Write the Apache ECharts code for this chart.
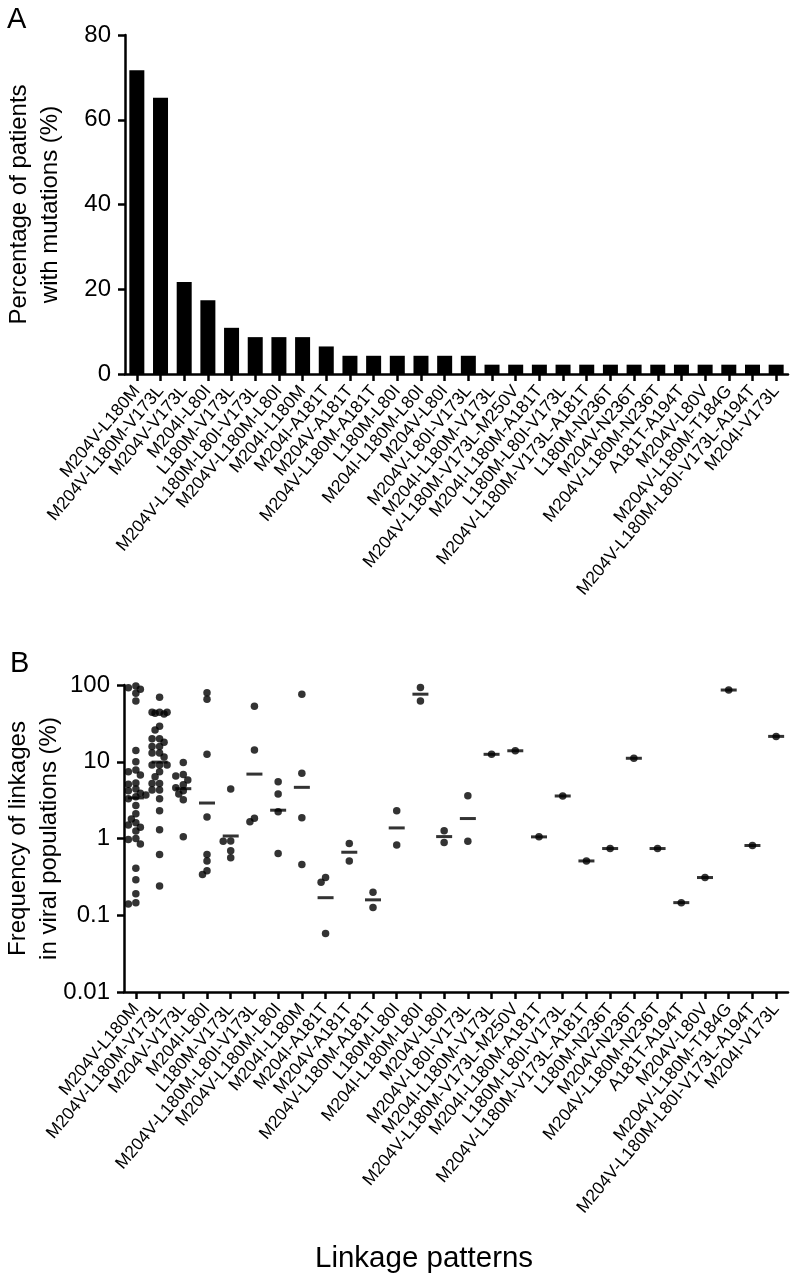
<!DOCTYPE html>
<html><head><meta charset="utf-8">
<script src="https://cdn.jsdelivr.net/npm/echarts@6/dist/echarts.min.js"></script>
<style>html,body{margin:0;padding:0;background:#fff}#c{width:797px;height:1283px}</style>
</head><body><div id="c"></div>
<script>
// ---------- data ----------
const categories = [
  'M204V-L180M','M204V-L180M-V173L','M204V-V173L','M204I-L80I','L180M-V173L',
  'M204V-L180M-L80I-V173L','M204V-L180M-L80I','M204I-L180M','M204I-A181T','M204V-A181T',
  'M204V-L180M-A181T','L180M-L80I','M204I-L180M-L80I','M204V-L80I','M204V-L80I-V173L',
  'M204I-L180M-V173L','M204V-L180M-V173L-M250V','M204I-L180M-A181T','L180M-L80I-V173L',
  'M204V-L180M-V173L-A181T','L180M-N236T','M204V-N236T','M204V-L180M-N236T','A181T-A194T',
  'M204V-L80V','M204V-L180M-T184G','M204V-L180M-L80I-V173L-A194T','M204I-V173L'
];
const patientPct = [71.7,65.2,21.7,17.4,10.9,8.7,8.7,8.7,6.5,4.3,4.3,4.3,4.3,4.3,4.3,
  2.2,2.2,2.2,2.2,2.2,2.2,2.2,2.2,2.2,2.2,2.2,2.2,2.2];
const yTicksTop = [0,20,40,60,80];
const yTicksBottom = [0.01,0.1,1,10,100];

const freqM204V_L180M = [97,92,88,78,62,14,10,7.8,7.4,6.7,5.3,5.1,4.4,4.2,3.9,3.7,3.5,3.3,
  2.7,2.1,1.8,1.6,1.5,1.4,1.25,1.0,0.97,0.85,0.41,0.29,0.19,0.145,0.14];
const freqM204V_L180M_V173L = [69,44,44,43,42,44,29,26,20,20,18,15.8,15.8,13,13,11.5,9.1,9.1,9.1,
  7.4,6.4,5.2,5.2,4.3,4.3,3.3,2.3,1.3,0.62,0.24];
const freqM204V_V173L = [9.8,6.8,6.5,5.8,5.0,4.6,4.2,3.8,3.2,1.05];
const freqM204I_L80I = [79,65,12.5,1.9,0.62,0.51,0.38,0.34];
const freqL180M_V173L = [4.4,0.93,0.92,0.69,0.56];
const freqM204V_L180M_L80I_V173L = [53,14.2,1.83,1.65];
const freqM204V_L180M_L80I = [5.5,3.8,2.23,0.64];
const freqM204I_L180M = [76,7.1,1.87,0.46];
const freqM204I_A181T = [0.31,0.27,0.058];
const freqM204V_A181T = [0.86,0.51];
const freqM204V_L180M_A181T = [0.20,0.126];
const freqL180M_L80I = [2.3,0.82];
const freqM204I_L180M_L80I = [93,62];
const freqM204V_L80I = [1.26,0.89];
const freqM204V_L80I_V173L = [3.6,0.92];
const freqSingles = [12.5,13.9,1.05,3.58,0.51,0.74,11.1,0.74,0.146,0.31,86,0.81,21.4];

const freqGroups = [freqM204V_L180M,freqM204V_L180M_V173L,freqM204V_V173L,freqM204I_L80I,
  freqL180M_V173L,freqM204V_L180M_L80I_V173L,freqM204V_L180M_L80I,freqM204I_L180M,
  freqM204I_A181T,freqM204V_A181T,freqM204V_L180M_A181T,freqL180M_L80I,freqM204I_L180M_L80I,
  freqM204V_L80I,freqM204V_L80I_V173L].concat(freqSingles.map(v => [v]));

// ---------- layout helpers (beeswarm jitter, geometric mean line) ----------
const PX_PER_DECADE = 76.75, MIN_DIST = 5.5;
const CANDS = [0,-4.5,4.5,-7.5,7.5,-10,10];
function swarmOffsets(vals){
  const order = vals.map((v,i)=>i).sort((a,b)=>vals[b]-vals[a]);
  const placed = [], offs = new Array(vals.length).fill(0);
  for (const i of order){
    const y = -Math.log10(vals[i])*PX_PER_DECADE;
    let best = 0, bestScore = -1;
    for (const dx of CANDS){
      let md = Infinity;
      for (const p of placed){ md = Math.min(md, Math.hypot(dx-p.x, y-p.y)); }
      if (md >= MIN_DIST){ best = dx; bestScore = Infinity; break; }
      if (md > bestScore){ bestScore = md; best = dx; }
    }
    placed.push({x:best,y}); offs[i] = best;
  }
  return offs;
}
const dots = [], means = [];
freqGroups.forEach((vals, c) => {
  const offs = swarmOffsets(vals);
  vals.forEach((v,k) => dots.push({value:[categories[c], v], symbolOffset:[offs[k],0]}));
  const gm = Math.pow(10, vals.reduce((s,v)=>s+Math.log10(v),0)/vals.length);
  means.push([categories[c], gm]);
});

const FONT = 'Liberation Sans, Arial, Helvetica, sans-serif';
const axisLine = {show:true, lineStyle:{color:'#000', width:2.5}};
const axisTick = {show:true, inside:false, length:7, alignWithLabel:true, lineStyle:{color:'#000', width:2.5}};
const xLabel = {interval:0, rotate:50, fontSize:17.5, color:'#000', fontFamily:FONT, margin:14};
const yLabel = {fontSize:24, color:'#000', fontFamily:FONT, margin:14};
const yName = {fontSize:24, lineHeight:31, color:'#000', fontFamily:FONT};

const chart = echarts.init(document.getElementById('c'), null, {renderer:'canvas'});
chart.setOption({
  backgroundColor:'#fff',
  animation:false,
  textStyle:{fontFamily:FONT},
  graphic:[
    {type:'text', left:7, top:5, style:{text:'A', fontSize:29, fill:'#000', fontFamily:FONT}},
    {type:'text', left:10, top:649, style:{text:'B', fontSize:29, fill:'#000', fontFamily:FONT}},
    {type:'text', left:315, top:1244, style:{text:'Linkage patterns', fontSize:29.5, fill:'#000', fontFamily:FONT}}
  ],
  grid:[
    {left:125, right:9, top:35, height:339, containLabel:false, outerBoundsMode:'none'},
    {left:124, right:9, top:685, height:307, containLabel:false, outerBoundsMode:'none'}
  ],
  xAxis:[
    {type:'category', gridIndex:0, data:categories, boundaryGap:true,
     axisLine, axisTick, axisLabel:xLabel, splitLine:{show:false}},
    {type:'category', gridIndex:1, data:categories, boundaryGap:true,
     axisLine, axisTick, axisLabel:xLabel, splitLine:{show:false}}
  ],
  yAxis:[
    {type:'value', gridIndex:0, min:yTicksTop[0], max:yTicksTop[yTicksTop.length-1], interval:20,
     axisLine, axisTick, axisLabel:yLabel, splitLine:{show:false},
     name:'Percentage of patients\nwith mutations (%)', nameLocation:'middle', nameRotate:90, nameGap:59,
     nameMoveOverlap:false, nameTextStyle:yName},
    {type:'log', gridIndex:1, logBase:10, min:yTicksBottom[0], max:yTicksBottom[yTicksBottom.length-1],
     axisLine, axisTick, splitLine:{show:false}, minorTick:{show:false},
     axisLabel:Object.assign({}, yLabel, {formatter: v => String(Number(v.toPrecision(3)))}),
     name:'Frequency of linkages\nin viral populations (%)', nameLocation:'middle', nameRotate:90, nameGap:59,
     nameMoveOverlap:false, nameTextStyle:yName}
  ],
  series:[
    {type:'bar', xAxisIndex:0, yAxisIndex:0, data:patientPct, barWidth:15,
     itemStyle:{color:'#000'}},
    {type:'scatter', xAxisIndex:1, yAxisIndex:1, data:means, symbol:'rect', symbolSize:[16,3],
     itemStyle:{color:'#000'}, z:2},
    {type:'scatter', xAxisIndex:1, yAxisIndex:1, data:dots, symbol:'circle', symbolSize:7.5,
     itemStyle:{color:'#000'}, z:3}
  ]
});
</script></body></html>
